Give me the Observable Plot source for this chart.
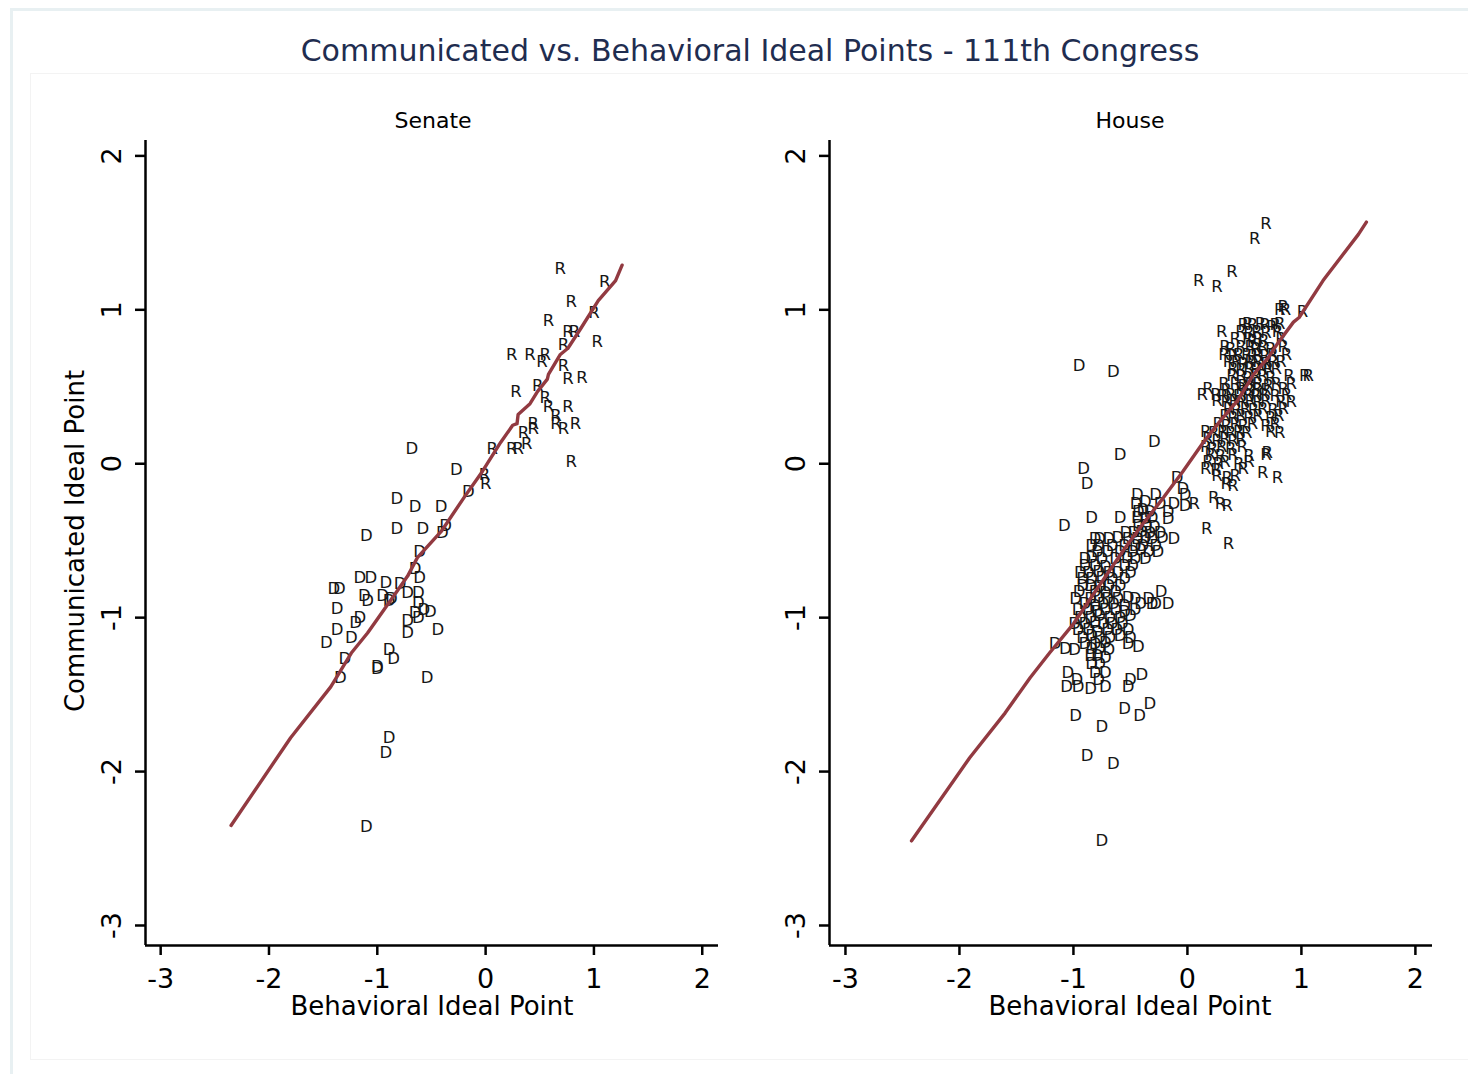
<!DOCTYPE html>
<html><head><meta charset="utf-8">
<script src="https://cdn.jsdelivr.net/npm/d3@7"></script>
<script src="https://cdn.jsdelivr.net/npm/@observablehq/plot@0.6"></script>
<style>
body{margin:0;background:#fff;width:1468px;height:1074px;overflow:hidden;position:relative;font-family:"DejaVu Sans",sans-serif;}
.abs{position:absolute;}
.c{position:absolute;transform:translate(-50%,-50%);white-space:nowrap;color:#000;}
</style></head><body>
<div class="abs" style="left:10px;top:8px;width:1470px;height:1080px;border:3px solid #e8f0f2;box-sizing:border-box;"></div>
<div class="abs" style="left:30px;top:73px;width:1440px;height:987px;border:1px solid #f3f3f3;box-sizing:border-box;"></div>
<div class="c" style="left:750px;top:50px;font-size:30px;color:#1f2d50;">Communicated vs. Behavioral Ideal Points - 111th Congress</div>
<div class="c" style="left:433px;top:120px;font-size:22px;">Senate</div>
<div class="c" style="left:1130px;top:120px;font-size:22px;">House</div>
<div class="c" style="left:432px;top:1006px;font-size:26px;">Behavioral Ideal Point</div>
<div class="c" style="left:1130px;top:1006px;font-size:26px;">Behavioral Ideal Point</div>
<div class="c" style="left:75px;top:541px;font-size:26px;transform:translate(-50%,-50%) rotate(-90deg);">Communicated Ideal Point</div>
<div id="senate" class="abs" style="left:0;top:0;"></div>
<div id="house" class="abs" style="left:740px;top:0;"></div>
<script>
// ---- data (behavioral x, communicated y) ----
const xTicks = [-3, -2, -1, 0, 1, 2];
const yTicks = [-3, -2, -1, 0, 1, 2];

const senateR = [[0.69,1.27],[1.10,1.18],[0.79,1.05],[1.00,0.98],[0.58,0.93],[0.76,0.86],[0.82,0.86],[1.03,0.79],[0.72,0.77],
[0.24,0.71],[0.41,0.71],[0.55,0.71],[0.52,0.66],[0.72,0.64],[0.76,0.55],[0.89,0.56],[0.28,0.47],[0.48,0.51],[0.55,0.43],
[0.58,0.37],[0.76,0.37],[0.65,0.31],[0.65,0.26],[0.72,0.23],[0.83,0.26],[0.44,0.26],[0.44,0.23],[0.35,0.20],[0.38,0.13],
[0.30,0.10],[0.24,0.10],[0.06,0.10],[0.79,0.01],[-0.01,-0.07],[0.00,-0.13]];

const senateD = [[-0.68,0.10],[-0.27,-0.04],[-0.16,-0.18],[-0.82,-0.23],[-0.65,-0.28],[-0.41,-0.28],[-0.82,-0.42],[-0.58,-0.42],
[-0.37,-0.40],[-0.40,-0.45],[-1.10,-0.47],[-0.61,-0.57],[-0.65,-0.68],[-0.61,-0.74],[-1.16,-0.74],[-1.06,-0.74],[-0.92,-0.77],
[-0.79,-0.78],[-1.40,-0.81],[-1.35,-0.81],[-1.12,-0.86],[-1.09,-0.89],[-0.95,-0.86],[-0.87,-0.88],[-0.89,-0.89],[-0.72,-0.84],
[-0.62,-0.84],[-0.62,-0.90],[-1.37,-0.94],[-0.57,-0.95],[-0.51,-0.96],[-0.65,-0.97],[-0.62,-1.00],[-1.16,-1.00],[-1.20,-1.03],
[-0.72,-1.02],[-0.72,-1.10],[-0.44,-1.08],[-1.37,-1.08],[-1.24,-1.13],[-1.47,-1.16],[-1.30,-1.27],[-0.89,-1.21],[-0.85,-1.27],
[-1.00,-1.32],[-1.00,-1.33],[-1.34,-1.39],[-0.54,-1.39],[-0.89,-1.78],[-0.92,-1.88],[-1.10,-2.36]];

const senateFit = [[-2.35,-2.35],[-1.80,-1.78],[-1.43,-1.45],[-1.24,-1.23],[-1.09,-1.10],[-0.94,-0.95],[-0.81,-0.82],[-0.72,-0.73],
[-0.63,-0.61],[-0.41,-0.44],[-0.20,-0.22],[-0.03,-0.05],[0.14,0.14],[0.25,0.25],[0.29,0.26],[0.30,0.32],[0.41,0.39],[0.48,0.47],
[0.57,0.55],[0.58,0.58],[0.69,0.71],[0.76,0.75],[0.88,0.88],[1.04,1.06],[1.20,1.19],[1.26,1.29]];

const houseR = [[0.69,1.56],[0.59,1.46],[0.39,1.25],[0.10,1.19],[0.26,1.15],
[0.81,1.00],[0.84,1.02],[0.86,1.00],[1.01,0.99],
[0.49,0.90],[0.53,0.91],[0.57,0.90],[0.64,0.91],[0.68,0.90],[0.74,0.89],[0.77,0.90],[0.81,0.91],
[0.30,0.86],[0.47,0.86],[0.54,0.85],[0.61,0.86],[0.69,0.85],[0.79,0.86],
[0.42,0.81],[0.53,0.81],[0.57,0.80],[0.62,0.81],[0.67,0.80],[0.82,0.81],
[0.33,0.76],[0.38,0.75],[0.47,0.76],[0.55,0.76],[0.60,0.75],[0.66,0.76],[0.73,0.75],[0.84,0.76],
[0.32,0.71],[0.40,0.70],[0.45,0.71],[0.52,0.71],[0.57,0.70],[0.62,0.71],[0.68,0.70],[0.75,0.71],[0.87,0.71],
[0.36,0.66],[0.43,0.66],[0.49,0.65],[0.55,0.66],[0.62,0.66],[0.69,0.65],[0.75,0.66],[0.82,0.66],
[0.40,0.62],[0.47,0.61],[0.54,0.62],[0.60,0.62],[0.66,0.61],[0.71,0.62],[0.78,0.62],
[0.39,0.57],[0.47,0.57],[0.53,0.56],[0.60,0.57],[0.66,0.57],[0.73,0.56],[0.89,0.57],[1.03,0.57],[1.06,0.57],
[0.32,0.52],[0.42,0.52],[0.49,0.51],[0.55,0.52],[0.62,0.52],[0.71,0.51],[0.78,0.52],[0.91,0.52],
[0.18,0.49],[0.34,0.48],[0.47,0.49],[0.54,0.48],[0.61,0.49],[0.69,0.48],[0.84,0.49],
[0.13,0.45],[0.25,0.45],[0.31,0.44],[0.38,0.45],[0.45,0.44],[0.53,0.45],[0.60,0.44],[0.67,0.45],[0.77,0.44],[0.87,0.45],
[0.26,0.41],[0.34,0.40],[0.41,0.41],[0.48,0.40],[0.55,0.41],[0.62,0.40],[0.69,0.41],[0.82,0.40],[0.91,0.40],
[0.36,0.36],[0.43,0.35],[0.51,0.36],[0.58,0.35],[0.66,0.36],[0.75,0.35],[0.84,0.36],
[0.33,0.31],[0.40,0.30],[0.47,0.31],[0.54,0.30],[0.62,0.31],[0.73,0.30],[0.80,0.31],
[0.27,0.26],[0.34,0.25],[0.42,0.26],[0.49,0.25],[0.57,0.26],[0.69,0.25],[0.77,0.26],
[0.16,0.21],[0.23,0.20],[0.31,0.21],[0.38,0.20],[0.45,0.21],[0.52,0.20],[0.73,0.21],[0.81,0.20],
[0.18,0.16],[0.26,0.15],[0.33,0.16],[0.40,0.15],[0.47,0.16],
[0.16,0.11],[0.22,0.10],[0.30,0.11],[0.38,0.10],[0.48,0.11],
[0.69,0.06],[0.70,0.07],[0.20,0.06],[0.29,0.05],[0.40,0.06],[0.54,0.05],
[0.18,0.01],[0.27,0.00],[0.33,0.01],[0.45,0.00],[0.54,0.01],
[0.16,-0.03],[0.25,-0.04],[0.49,-0.03],[0.66,-0.06],
[0.26,-0.08],[0.35,-0.09],[0.42,-0.08],[0.79,-0.09],
[0.34,-0.13],[0.40,-0.14],[0.23,-0.22],[0.06,-0.26],[0.29,-0.26],[0.35,-0.27],[0.17,-0.42],[0.36,-0.52]];

const houseD = [[-0.95,0.64],[-0.65,0.60],[-0.29,0.14],[-0.59,0.06],[-0.91,-0.03],[-0.88,-0.13],[-1.08,-0.40],[-0.84,-0.35],[-0.09,-0.09],[-0.04,-0.16],
[-0.44,-0.20],[-0.28,-0.20],[-0.02,-0.20],
[-0.45,-0.26],[-0.37,-0.25],[-0.24,-0.26],[-0.12,-0.26],[-0.02,-0.27],
[-0.43,-0.31],[-0.39,-0.30],[-0.33,-0.31],[-0.17,-0.31],
[-0.59,-0.35],[-0.44,-0.35],[-0.37,-0.36],[-0.31,-0.35],[-0.17,-0.36],
[-0.43,-0.40],[-0.36,-0.40],[-0.29,-0.41],
[-0.54,-0.45],[-0.47,-0.45],[-0.40,-0.44],[-0.33,-0.45],[-0.24,-0.45],
[-0.81,-0.49],[-0.77,-0.49],[-0.69,-0.49],[-0.61,-0.48],[-0.52,-0.49],[-0.44,-0.49],[-0.37,-0.48],[-0.31,-0.49],[-0.22,-0.48],[-0.12,-0.49],
[-0.84,-0.53],[-0.78,-0.53],[-0.66,-0.53],[-0.55,-0.53],[-0.46,-0.53],[-0.39,-0.53],[-0.28,-0.53],
[-0.79,-0.57],[-0.70,-0.57],[-0.59,-0.57],[-0.48,-0.57],[-0.41,-0.56],[-0.34,-0.57],[-0.26,-0.57],
[-0.90,-0.62],[-0.84,-0.61],[-0.75,-0.62],[-0.63,-0.62],[-0.53,-0.61],[-0.46,-0.62],[-0.37,-0.62],
[-0.90,-0.66],[-0.81,-0.66],[-0.72,-0.67],[-0.55,-0.66],[-0.48,-0.66],
[-0.94,-0.71],[-0.87,-0.71],[-0.78,-0.70],[-0.69,-0.71],[-0.61,-0.71],[-0.50,-0.71],
[-0.92,-0.75],[-0.84,-0.75],[-0.75,-0.74],[-0.66,-0.75],[-0.55,-0.75],
[-0.92,-0.79],[-0.85,-0.79],[-0.77,-0.80],[-0.69,-0.79],[-0.59,-0.79],
[-0.23,-0.83],[-0.95,-0.83],[-0.81,-0.83],[-0.72,-0.84],[-0.63,-0.83],
[-0.98,-0.88],[-0.85,-0.88],[-0.78,-0.87],[-0.70,-0.88],[-0.61,-0.88],[-0.52,-0.87],[-0.46,-0.88],[-0.34,-0.88],
[-0.90,-0.91],[-0.81,-0.92],[-0.74,-0.91],[-0.65,-0.91],[-0.55,-0.92],[-0.41,-0.91],[-0.28,-0.91],[-0.17,-0.91],[-0.31,-0.91],
[-0.96,-0.95],[-0.87,-0.95],[-0.79,-0.96],[-0.72,-0.95],[-0.63,-0.95],[-0.55,-0.96],[-0.46,-0.95],
[-0.94,-1.00],[-0.85,-1.00],[-0.77,-0.99],[-0.68,-1.00],[-0.59,-1.00],[-0.50,-0.99],
[-0.99,-1.04],[-0.90,-1.04],[-0.81,-1.03],[-0.74,-1.04],[-0.66,-1.04],[-0.57,-1.04],
[-0.96,-1.08],[-0.87,-1.08],[-0.79,-1.09],[-0.70,-1.08],[-0.62,-1.08],[-0.52,-1.08],
[-0.92,-1.13],[-0.84,-1.12],[-0.77,-1.13],[-0.68,-1.13],[-0.59,-1.12],[-0.50,-1.13],
[-1.16,-1.17],[-0.90,-1.17],[-0.81,-1.17],[-0.72,-1.16],[-0.52,-1.17],
[-1.07,-1.20],[-0.99,-1.21],[-0.84,-1.20],[-0.77,-1.20],[-0.69,-1.21],[-0.43,-1.19],
[-0.85,-1.25],[-0.79,-1.25],[-0.72,-1.26],[-0.84,-1.30],[-0.77,-1.30],
[-1.05,-1.36],[-0.81,-1.36],[-0.72,-1.36],
[-0.97,-1.40],[-0.78,-1.40],[-0.50,-1.40],[-0.40,-1.37],
[-1.06,-1.45],[-0.96,-1.45],[-0.85,-1.46],[-0.72,-1.45],[-0.52,-1.45],
[-0.33,-1.56],[-0.55,-1.59],[-0.98,-1.64],[-0.42,-1.64],[-0.75,-1.71],[-0.88,-1.90],[-0.65,-1.95],[-0.75,-2.45]];

const houseFit = [[-2.42,-2.45],[-1.91,-1.91],[-1.60,-1.62],[-1.38,-1.39],[-1.21,-1.23],[-1.00,-1.04],[-0.79,-0.81],[-0.56,-0.56],
[-0.39,-0.39],[-0.21,-0.22],[-0.04,-0.05],[0.14,0.14],[0.29,0.28],[0.44,0.41],[0.58,0.58],[0.71,0.69],[0.79,0.78],[0.93,0.92],
[0.98,0.95],[1.19,1.19],[1.21,1.21],[1.50,1.49],[1.57,1.57]];

// ---- drawing ----
const xDomain = [-3.14, 2.15], yDomain = [-3.13, 2.10];
const FONT = "'DejaVu Sans', sans-serif";
function toRows(D, R) {
  return D.map(([x, y]) => ({x, y, p: "D"})).concat(R.map(([x, y]) => ({x, y, p: "R"})));
}
function panel(rows, fit, width, frameL, frameR) {
  return Plot.plot({
    width, height: 1074,
    marginLeft: frameL, marginRight: width - frameR, marginTop: 140, marginBottom: 1074 - 945,
    x: {domain: xDomain}, y: {domain: yDomain},
    style: {fontFamily: FONT, fontSize: "27px", background: "transparent", color: "#000", overflow: "visible"},
    marks: [
      Plot.axisX({ticks: xTicks, tickSize: 10, tickPadding: 13, strokeWidth: 2.5, label: null, tickFormat: d => String(d), fontSize: 27}),
      Plot.axisY({ticks: yTicks, tickSize: 10, tickPadding: 15, tickRotate: -90, strokeWidth: 2.5, label: null, tickFormat: d => String(d), fontSize: 27}),
      Plot.ruleX([xDomain[0]], {stroke: "#000", strokeWidth: 2.5}),
      Plot.ruleY([yDomain[0]], {stroke: "#000", strokeWidth: 2.5}),
      Plot.text(rows, {x: "x", y: "y", text: "p", fontSize: 16.5, fill: "#161616"}),
      Plot.line(fit, {x: d => d[0], y: d => d[1], stroke: "#923a41", strokeWidth: 3.4})
    ]
  });
}
document.getElementById("senate").append(panel(toRows(senateD, senateR), senateFit, 740, 145, 718));
document.getElementById("house").append(panel(toRows(houseD, houseR), houseFit, 728, 89, 692));
</script>
</body></html>
